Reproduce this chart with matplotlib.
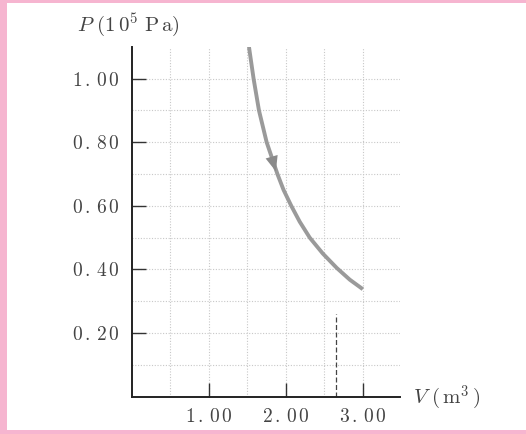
import matplotlib
matplotlib.use("Agg")
import matplotlib.pyplot as plt
from matplotlib.patches import Rectangle

plt.rcParams['mathtext.fontset'] = 'cm'
plt.rcParams['font.family'] = ['DejaVu Serif']

# curve
vol = [1.52, 1.55, 1.58, 1.65, 1.75, 1.89, 1.97, 2.07, 2.18, 2.31, 2.48, 2.66, 2.83, 3.00]
pres = [1.10, 1.05, 1.00, 0.90, 0.80, 0.70, 0.65, 0.60, 0.55, 0.50, 0.45, 0.405, 0.368, 0.338]

xticks = [1.0, 2.0, 3.0]
xtick_labels = ["1.00", "2.00", "3.00"]
yticks = [0.2, 0.4, 0.6, 0.8, 1.0]
ytick_labels = ["0.20", "0.40", "0.60", "0.80", "1.00"]

dash_v = 2.65
dash_p = 0.26

fig = plt.figure(figsize=(5.26, 4.34), dpi=100)
fig.patch.set_facecolor('#f6b5d0')
panel = Rectangle((7 / 526, 4 / 434), 1, 427 / 434, transform=fig.transFigure,
                  facecolor='white', edgecolor='none', zorder=-5)
fig.add_artist(panel)

ax = fig.add_axes([0.251, 0.086, 0.509, 0.806])
ax.set_facecolor('none')
ax.set_xlim(0, 3.48)
ax.set_ylim(0, 1.10)

for s in ['top', 'right']:
    ax.spines[s].set_visible(False)
for s in ['left', 'bottom']:
    ax.spines[s].set_color('#222222')
    ax.spines[s].set_linewidth(1.4)

# grid
for gx in [0.5, 1.0, 1.5, 2.0, 2.5, 3.0]:
    ax.axvline(gx, color='#c8c8c8', lw=0.8, ls=(0, (1, 1.5)), zorder=1)
for gy in [0.1, 0.2, 0.3, 0.4, 0.5, 0.6, 0.7, 0.8, 0.9, 1.0]:
    ax.axhline(gy, color='#c8c8c8', lw=0.8, ls=(0, (1, 1.5)), zorder=1)

def spaced(t):
    a, b = t.split('.')
    return '$' + a + r'\,.\,' + b[0] + r'\,' + b[1] + '$'

ax.set_xticks(xticks)
ax.set_xticklabels([spaced(t) for t in xtick_labels])
ax.set_yticks(yticks)
ax.set_yticklabels([spaced(t) for t in ytick_labels])
ax.tick_params(direction='in', length=10, width=1.0, color='#333333',
               labelsize=14, labelcolor='#444444')
ax.tick_params(axis='x', pad=8)
ax.tick_params(axis='y', pad=9)

ax.plot([dash_v, dash_v], [0, dash_p], color='#444444', lw=0.9, ls=(0, (4, 2)), zorder=2)

ax.plot(vol, pres, color='#9a9a9a', lw=2.8, solid_capstyle='butt',
        solid_joinstyle='round', zorder=3)
ax.annotate('', xy=(1.88, 0.70), xytext=(1.76, 0.80),
            arrowprops=dict(arrowstyle='-|>,head_length=1.1,head_width=0.45',
                            color='#8a8a8a', lw=0), zorder=4)

fig.text(77 / 526, 1 - 25 / 434, r'$P\ (1\,0^5\ \mathrm{P\,a})$', fontsize=15, color='#444444',
         ha='left', va='center')
fig.text(413 / 526, 1 - 398 / 434, r'$V\ (\,\mathrm{m}^3\,)$', fontsize=15, color='#444444',
         ha='left', va='center')

fig.savefig('out.png', dpi=100)
